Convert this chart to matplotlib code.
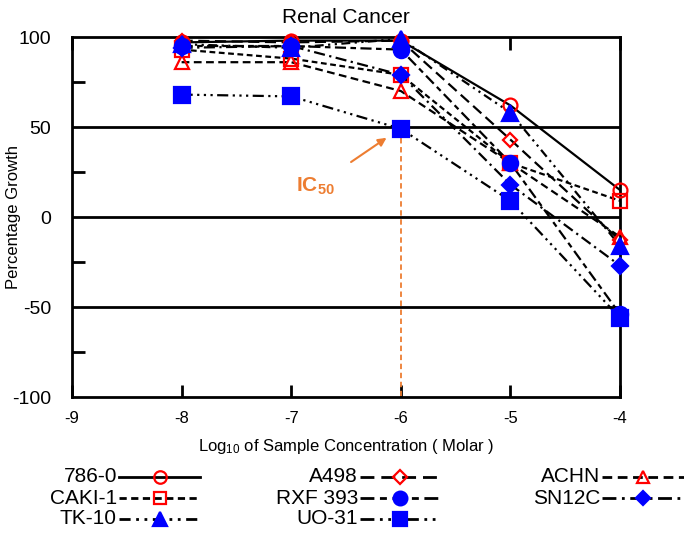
import numpy as np
import matplotlib
matplotlib.use('Agg')
import matplotlib.pyplot as plt

plt.rcParams.update({'font.family': ['Liberation Sans', 'DejaVu Sans'],
                     'mathtext.fontset': 'custom',
                     'mathtext.rm': 'Liberation Sans',
                     'mathtext.bf': 'Liberation Sans:bold',
                     'mathtext.it': 'Liberation Sans'})

# log10 molar concentration
conc = [-8, -7, -6, -5, -4]

# percentage growth per cell line
g_786_0 = [97, 98, 98, 62, 15]
g_a498 = [98, 97, 98, 43, -13]
g_achn = [86, 86, 70, 30, -11]
g_caki_1 = [93, 88, 79, 30, 9]
g_rxf_393 = [95, 95, 93, 30, -54]
g_sn12c = [94, 95, 79, 18, -27]
g_tk_10 = [96, 94, 99, 58, -16]
g_uo_31 = [68, 67, 49, 9, -56]

red = '#FF0000'
blue = '#0000FF'
orange = '#ED7D31'

series = [
    ('786-0', g_786_0, '-', 'o', red, 'none', 10),
    ('A498', g_a498, (0, (5, 2.5)), 'D', red, 'none', 7.5),
    ('ACHN', g_achn, (0, (3.5, 2)), '^', red, 'none', 10),
    ('CAKI-1', g_caki_1, (0, (2.6, 1.6)), 's', red, 'none', 10),
    ('RXF 393', g_rxf_393, (0, (5, 2, 2.5, 2)), 'o', blue, blue, 11),
    ('SN12C', g_sn12c, (0, (5, 2, 1, 2)), 'D', blue, blue, 8),
    ('TK-10', g_tk_10, (0, (4, 2, 1, 2, 1, 2)), '^', blue, blue, 11),
    ('UO-31', g_uo_31, (0, (5, 2, 1, 2, 1, 2, 1, 2)), 's', blue, blue, 11),
]

fig = plt.figure(figsize=(6.84, 5.36), dpi=100)
ax = fig.add_axes([72/684, 1-397/536, 548/684, 360/536])

for name, vals, ls, mk, ec, fc, ms in series:
    ax.plot(conc, vals, color='black', linestyle=ls, linewidth=1.6, zorder=3)
for name, vals, ls, mk, ec, fc, ms in series:
    ax.plot(conc, vals, linestyle='none', marker=mk, markersize=ms,
            markeredgecolor=ec, markerfacecolor=fc, markeredgewidth=1.6,
            zorder=4, clip_on=False)

for yv in [50, 0, -50]:
    ax.axhline(yv, color='black', linewidth=2, zorder=2)

# IC50 guide
ax.plot([-6, -6], [49, -100], color=orange, linestyle=(0, (3, 2)), linewidth=1.3, zorder=2)
ax.annotate('IC$_{\\mathbf{50}}$', xy=(-6.13, 44), xytext=(-6.78, 17), color=orange,
            fontsize=15, fontweight='bold', ha='center', va='center',
            arrowprops=dict(arrowstyle='-|>', color=orange, lw=1.5,
                            shrinkA=14, shrinkB=0, mutation_scale=12))

ax.set_xlim(-9, -4)
ax.set_ylim(-100, 100)
ax.set_xticks([-9, -8, -7, -6, -5, -4])
ax.set_xticklabels(['-9', '-8', '-7', '-6', '-5', '-4'])
ax.set_yticks([-100, -50, 0, 50, 100])
ax.set_yticklabels(['-100', '-50', '0', '50', '100'])
ax.set_yticks([-75, -25, 25, 75], minor=True)
ax.tick_params(axis='x', direction='in', length=9, width=2, top=True, pad=10, labelsize=12)
ax.tick_params(axis='y', which='major', direction='in', length=0, pad=15, labelsize=14)
ax.tick_params(axis='y', which='minor', direction='in', length=9, width=2)
for sp in ax.spines.values():
    sp.set_linewidth(2)

ax.set_title('Renal Cancer', fontsize=15, pad=10)
ax.set_ylabel('Percentage Growth', fontsize=12)
ax.yaxis.set_label_coords(-0.093, 0.5)
ax.set_xlabel('Log$_{10}$ of Sample Concentration ( Molar )', fontsize=12, labelpad=8)

# legend drawn in pixel space below the plot
lg = fig.add_axes([0, 0, 1, 1], zorder=-1)
lg.set_xlim(0, 684)
lg.set_ylim(536, 0)
lg.axis('off')
legend_order = [0, 3, 6, 1, 4, 7, 2, 5]
cols = [(117, 200, 160), (358, 440, 400), (600, 684, 643)]
rows = [477, 498, 519]
for k, idx in enumerate(legend_order):
    name, vals, ls, mk, ec, fc, ms = series[idx]
    tx, lx1, mx = cols[k // 3]
    y = rows[k % 3]
    lg.plot([tx + 2, lx1], [y, y], color='black', linestyle=ls, linewidth=2)
    lg.plot([mx], [y], linestyle='none', marker=mk, markersize=ms * 0.9,
            markeredgecolor=ec, markerfacecolor=fc, markeredgewidth=1.6)
    lg.text(tx, y, name, ha='right', va='center', fontsize=15)

fig.savefig('out.png', dpi=100)
